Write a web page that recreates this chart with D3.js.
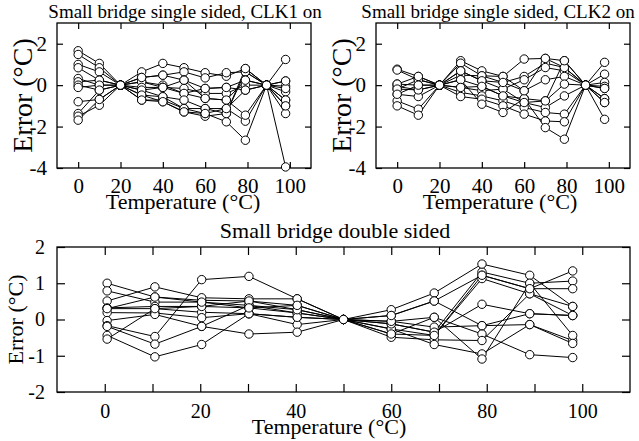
<!DOCTYPE html>
<html>
<head>
<meta charset="utf-8">
<script src="https://cdn.jsdelivr.net/npm/d3@7"></script>
<style>
  body { margin: 0; background: #fff; }
  text { font-family: "Liberation Serif", "Times New Roman", serif; fill: #000; }
</style>
</head>
<body>
<script>
// temperatures at which each board was measured
const tempsTop = [0, 10, 20, 30, 40, 50, 60, 70, 79, 89, 98];
const tempsBottom = [0.5, 10.5, 20.3, 30.2, 40.3, 50, 60, 69, 79, 89, 98];

// error (°C) per board, single sided CLK1 on
const clk1Errors = [
    [1.66, 1.05, 0, -0.48, -0.8, -1.29, -1.5, -1.37, 0.64, 0, -0.72],
    [1.48, 0.84, 0, -0.72, -0.72, -1.13, -1.37, -1.77, -2.66, 0, -1.0],
    [1.0, 0.64, 0, -0.24, -0.56, -1.13, -1.13, -1.13, -1.74, 0, -1.37],
    [0.84, 0.24, 0, 0.16, 0, -0.4, -0.64, -0.72, -1.45, 0, -0.32],
    [0.32, 0.0, 0, 0.64, 1.05, 0.84, 0.6, 0.43, 0.8, 0, 1.24],
    [0.16, 0.24, 0, 0.37, 0.48, 0.64, 0.35, 0.6, 0.64, 0, 0.2],
    [0.0, -0.24, 0, 0.16, -0.11, 0.24, -0.16, -0.11, 0.24, 0, -3.95],
    [-0.11, 0.0, 0, -0.11, -0.11, -0.16, -0.4, -0.4, 0.0, 0, -0.05],
    [-0.8, -0.69, 0, -0.24, -0.11, -0.4, -0.16, -0.11, -0.24, 0, -0.16],
    [-1.37, -0.24, 0, -0.48, -0.56, -0.72, -1.13, -1.37, 0.8, 0, -0.72],
    [-1.5, -0.97, 0, 0.37, 0.48, 0.24, -0.64, -0.72, 0.24, 0, 0.2],
    [-1.69, -0.69, 0, -0.72, -0.8, -1.29, -1.37, -1.13, -0.24, 0, -1.0]
];

// single sided CLK2 on
const clk2Errors = [
    [0.77, 0.42, 0, 1.18, 0.69, 0.42, 1.26, 1.29, 1.18, 0, 1.1],
    [0.73, 0.26, 0, 1.06, 0.45, 0.13, 0.42, 1.06, 0.85, 0, 0.53],
    [0.05, 0, 0, 0.69, 0.21, -0.19, 0.26, 0.85, 0.69, 0, 0.13],
    [-0.06, -0.23, 0, 0.48, 0.45, 0.42, -0.27, 0.26, 0.42, 0, -0.06],
    [-0.19, 0.26, 0, 0.26, -0.06, -0.52, -0.65, -0.76, 0.05, 0, -0.16],
    [-0.44, -0.55, 0, -0.11, -0.27, -0.19, -0.84, -1.08, -0.52, 0, -0.65],
    [-0.76, -1.16, 0, -0.35, -0.52, -0.76, -1.08, -1.32, -1.4, 0, -0.84],
    [-1.0, -1.45, 0, -0.55, -0.68, -1.0, -1.4, -1.73, -1.77, 0, -1.65],
    [0.05, 0.42, 0, 0.26, -0.92, -1.32, -0.65, -2.05, -2.61, 0, -0.65],
    [-0.19, -0.23, 0, 0.69, 0.21, 0.13, -0.27, 1.29, 0.85, 0, -0.16],
    [-0.44, 0.0, 0, -0.11, -0.06, -0.52, -0.84, -0.76, 1.18, 0, -0.84]
];

// double sided
const doubleErrors = [
    [1.0, 0.62, 0.53, 0.51, 0.39, 0, -0.12, -0.35, 1.31, 1.0, 1.06],
    [0.79, 0.48, 0.48, 0.39, 0.27, 0, 0.27, 0.73, 1.53, 1.22, 0.36],
    [0.51, 0.9, 0.6, 0.57, 0.57, 0, 0.11, 0.51, 1.22, 0.85, 0.85],
    [0.32, 0.36, 0.36, 0.32, 0.18, 0, -0.05, -0.21, -0.17, 0.16, 0.11],
    [0.3, 0.3, 0.2, 0.16, 0.06, 0, -0.26, -0.44, 1.13, 0.71, 0.36],
    [0.19, 0.18, 0.05, 0.16, -0.14, 0, -0.4, 0.06, -0.4, -0.97, -1.05],
    [-0.03, 0.14, -0.19, 0.39, 0.18, 0, -0.49, -0.56, -0.58, 0.71, 0.11],
    [-0.17, -0.47, 1.1, 1.19, 0.57, 0, -0.26, -0.69, -0.95, -0.14, -0.58],
    [-0.19, -0.68, -0.19, -0.4, -0.35, 0, -0.12, -0.35, 0.42, 0.16, 0.11],
    [-0.44, -1.03, -0.69, 0.16, 0.06, 0, -0.05, 0.06, -1.09, 1.0, -0.44],
    [-0.54, 0.3, 0.36, 0.51, 0.27, 0, -0.4, -0.44, 1.22, 0.85, 1.34],
    [0.3, 0.62, 0.48, 0.32, 0.39, 0, 0.11, 0.51, -0.17, -0.14, -0.66]
];

const width = 639;
const height = 441;
const serif = "Liberation Serif, Times New Roman, serif";

const svg = d3.select("body")
    .append("svg")
    .attr("width", width)
    .attr("height", height);

function drawPanel(p) {
    const x = d3.scaleLinear().domain([-10, 110]).range([p.left, p.right]);
    const y = d3.scaleLinear().domain(p.yDomain).range([p.bottom, p.top]);
    const g = svg.append("g");

    // mirrored inward ticks, labels only bottom/left
    const ax = (axis, tx, ty, labels) => {
        const a = g.append("g")
            .attr("transform", `translate(${tx},${ty})`)
            .call(axis)
            .attr("font-family", serif)
            .attr("font-size", p.tickFont);
        a.select(".domain").remove();
        a.selectAll("line").attr("stroke", "#000").attr("stroke-width", 1.2);
        if (!labels) a.selectAll("text").remove();
        else a.selectAll("text").filter(function () { return this.textContent === ""; }).remove();
        return a;
    };
    ax(d3.axisBottom(x).tickValues(p.xTicks).tickSize(-p.tick).tickPadding(p.tick + 4)
        .tickFormat(d => d % 20 === 0 ? String(d) : ""), 0, p.bottom, true);
    ax(d3.axisTop(x).tickValues(p.xTicks).tickSize(-p.tick), 0, p.top, false);
    ax(d3.axisLeft(y).tickValues(p.yTicks).tickSize(-p.tick).tickPadding(p.tick + 4)
        .tickFormat(d => String(d)), p.left, 0, true);
    ax(d3.axisRight(y).tickValues(p.yTicks).tickSize(-p.tick), p.right, 0, false);

    g.append("rect")
        .attr("x", p.left).attr("y", p.top)
        .attr("width", p.right - p.left).attr("height", p.bottom - p.top)
        .attr("fill", "none").attr("stroke", "#000").attr("stroke-width", 1.3);

    const line = d3.line().x((d, i) => x(p.temps[i])).y(d => y(d));
    g.append("g").selectAll("path")
        .data(p.series)
        .join("path")
        .attr("d", line)
        .attr("fill", "none")
        .attr("stroke", "#000")
        .attr("stroke-width", 1);

    const pts = p.series.flatMap(s => s.map((v, i) => [p.temps[i], v]));
    g.append("g").selectAll("circle")
        .data(pts)
        .join("circle")
        .attr("cx", d => x(d[0]))
        .attr("cy", d => y(d[1]))
        .attr("r", 4.2)
        .attr("fill", "#fff")
        .attr("stroke", "#000")
        .attr("stroke-width", 1);

    g.append("text")
        .attr("x", p.titleX).attr("y", p.titleY)
        .attr("text-anchor", "middle")
        .attr("font-family", serif)
        .attr("font-size", p.titleFont)
        .text(p.title);
    g.append("text")
        .attr("x", p.xLabelX).attr("y", p.xLabelY)
        .attr("text-anchor", "middle")
        .attr("font-family", serif)
        .attr("font-size", p.xLabelFont)
        .text("Temperature (°C)");
    g.append("text")
        .attr("transform", `translate(${p.yLabelX},${(p.top + p.bottom) / 2}) rotate(-90)`)
        .attr("text-anchor", "middle")
        .attr("dy", "0.35em")
        .attr("font-family", serif)
        .attr("font-size", p.yLabelFont)
        .text("Error (°C)");
}

drawPanel({
    left: 57, right: 311, top: 23, bottom: 168, yDomain: [-4, 3],
    xTicks: [0, 20, 40, 60, 80, 100], yTicks: [-4, -2, 0, 2], tick: 6, tickFont: 21,
    temps: tempsTop, series: clk1Errors,
    title: "Small bridge single sided, CLK1 on", titleX: 185, titleY: 18, titleFont: 19,
    xLabelX: 183, xLabelY: 209, xLabelFont: 22, yLabelX: 22, yLabelFont: 28
});

drawPanel({
    left: 376, right: 630, top: 23, bottom: 168, yDomain: [-4, 3],
    xTicks: [0, 20, 40, 60, 80, 100], yTicks: [-4, -2, 0, 2], tick: 6, tickFont: 21,
    temps: tempsTop, series: clk2Errors,
    title: "Small bridge single sided, CLK2 on", titleX: 498, titleY: 18, titleFont: 19,
    xLabelX: 500, xLabelY: 209, xLabelFont: 22, yLabelX: 341, yLabelFont: 28
});

drawPanel({
    left: 57, right: 630, top: 247, bottom: 392, yDomain: [-2, 2],
    xTicks: d3.range(0, 101, 10), yTicks: [-2, -1, 0, 1, 2], tick: 8, tickFont: 20,
    temps: tempsBottom, series: doubleErrors,
    title: "Small bridge double sided", titleX: 335, titleY: 238, titleFont: 22,
    xLabelX: 329, xLabelY: 434, xLabelFont: 22, yLabelX: 15, yLabelFont: 22
});
</script>
</body>
</html>
